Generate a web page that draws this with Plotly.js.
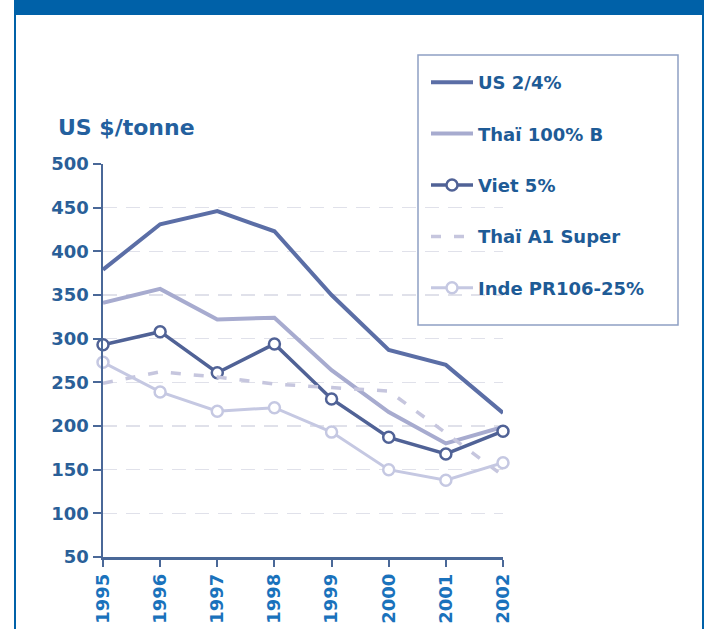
<!DOCTYPE html>
<html><head><meta charset="utf-8">
<script src="https://cdn.plot.ly/plotly-3.0.1.min.js"></script>
<style>
html,body{margin:0;padding:0;background:#fff;}
#wrap{position:relative;width:714px;height:629px;overflow:hidden;}
#chart{position:absolute;left:0;top:0;width:714px;height:629px;}
.fr{position:absolute;background:#0061a8;pointer-events:none;}
</style></head>
<body>
<div id="wrap">
<div id="chart"></div>
<div class="fr" style="left:14px;top:0;width:690px;height:15px;"></div>
<div class="fr" style="left:14px;top:0;width:2px;height:629px;"></div>
<div class="fr" style="left:702px;top:0;width:2px;height:629px;"></div>
</div>
<script>
const years = [1995, 1996, 1997, 1998, 1999, 2000, 2001, 2002];
const yearLabels = ['1995', '1996', '1997', '1998', '1999', '2000', '2001', '2002'];
const seriesNames = ['US 2/4%', 'Thaï 100% B', 'Viet 5%', 'Thaï A1 Super', 'Inde PR106-25%'];
const us = [379, 431, 446, 423, 350, 287, 270, 215];
const thai100 = [341, 357, 322, 324, 264, 216, 180, 199];
const viet = [293, 308, 261, 294, 231, 187, 168, 194];
const thaiA1 = [249, 262, 256, 248, 244, 240, 192, 143];
const inde = [273, 239, 217, 221, 193, 150, 138, 158];
const yTicks = [50, 100, 150, 200, 250, 300, 350, 400, 450, 500];
const yAxisTitle = 'US $/tonne';

// pixel helpers for layout placement (style only)
const L = 103, R = 211, T = 164, B = 72, W = 714, H = 629;
const pw = W - L - R, ph = H - T - B;
const px = x => (x - L) / pw;
const py = y => (H - B - y) / ph;

const traces = [
  {x: years, y: us, name: seriesNames[0], mode: 'lines', line: {color: '#5b6ea6', width: 4}},
  {x: years, y: thai100, name: seriesNames[1], mode: 'lines', line: {color: '#a7abcf', width: 4}},
  {x: years, y: viet, name: seriesNames[2], mode: 'lines+markers', line: {color: '#506296', width: 3.5},
   marker: {symbol: 'circle', size: 11, color: '#ffffff', line: {color: '#506296', width: 2.5}}},
  {x: years, y: thaiA1, name: seriesNames[3], mode: 'lines', line: {color: '#c6c6de', width: 3.5, dash: '10px,13px'}},
  {x: years, y: inde, name: seriesNames[4], mode: 'lines+markers', line: {color: '#c5c8e2', width: 3},
   marker: {symbol: 'circle', size: 11, color: '#ffffff', line: {color: '#c5c8e2', width: 2.5}}}
].map((t, i) => Object.assign(t, {legendgroup: 'g' + i, cliponaxis: false}));

const layout = {
  width: W, height: H,
  margin: {l: L, r: R, t: T, b: B, pad: 0},
  paper_bgcolor: '#ffffff', plot_bgcolor: '#ffffff',
  font: {family: 'DejaVu Sans', size: 18, color: '#23609e'},
  showlegend: true,
  legend: {
    x: px(426), y: py(64), xanchor: 'left', yanchor: 'top',
    bgcolor: 'rgba(0,0,0,0)', borderwidth: 0, itemwidth: 42,
    traceorder: 'grouped', tracegroupgap: 25,
    font: {family: 'DejaVu Sans', size: 18, color: '#1e5b96', weight: 'bold'}
  },
  xaxis: {
    range: [1995, 2002], tickvals: years, ticktext: yearLabels,
    tickangle: -90, ticks: 'outside', ticklen: 7, tickwidth: 2, tickcolor: '#4a6898',
    showline: true, linecolor: '#4a6898', linewidth: 2.5, showgrid: false, zeroline: false,
    tickfont: {family: 'DejaVu Sans', size: 18, color: '#1a72bc', weight: 'bold'}
  },
  yaxis: {
    range: [50, 500], tickvals: yTicks, ticks: 'outside', ticklen: 8, tickwidth: 2, tickcolor: '#4a6898',
    showline: true, linecolor: '#4a6898', linewidth: 2.5, zeroline: false,
    showgrid: true, gridcolor: '#e0e1ea', gridwidth: 1.5, griddash: '14px,9px',
    tickfont: {family: 'DejaVu Sans', size: 18, color: '#2a5f98', weight: 'bold'}
  },
  shapes: [
    {type: 'rect', xref: 'paper', yref: 'paper', x0: px(418), x1: px(678), y0: py(325), y1: py(55),
     line: {color: '#8ea0c4', width: 1.5}, fillcolor: 'rgba(0,0,0,0)', layer: 'below'}
  ],
  annotations: [
    {text: yAxisTitle, xref: 'paper', yref: 'paper', x: px(56), y: py(127), xanchor: 'left', yanchor: 'middle',
     showarrow: false, font: {family: 'DejaVu Sans', size: 22, color: '#23609e', weight: 'bold'}}
  ]
};

Plotly.newPlot('chart', traces, layout, {staticPlot: true, displayModeBar: false});
</script>
</body></html>
